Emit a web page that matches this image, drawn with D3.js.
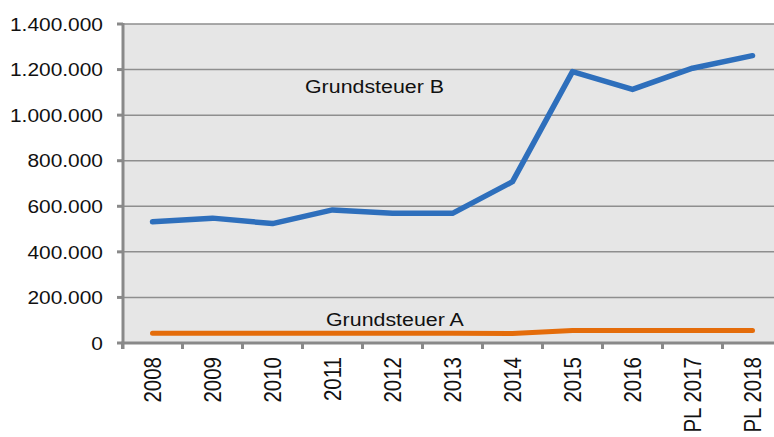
<!DOCTYPE html>
<html>
<head>
<meta charset="utf-8">
<script src="https://cdn.jsdelivr.net/npm/d3@7"></script>
<style>
  body { margin: 0; background: #fff; }
  svg { display: block; font-family: "Liberation Sans", Arial, sans-serif; }
</style>
</head>
<body>
<svg id="chart" width="774" height="437"></svg>
<script>
// data
var categories = ["2008", "2009", "2010", "2011", "2012", "2013", "2014", "2015", "2016", "PL 2017", "PL 2018"];
var grundsteuerB = [532000, 548000, 524000, 584000, 569000, 569000, 708000, 1191000, 1113000, 1206000, 1261000];
var grundsteuerA = [43000, 43000, 43000, 43000, 43000, 43000, 42000, 55000, 55000, 55000, 55000];
var yTicks = [0, 200000, 400000, 600000, 800000, 1000000, 1200000, 1400000];

var plotLeft = 123, plotTop = 24, plotBottom = 343, plotRight = 783;
var stretch = 1.125;

var de = d3.formatLocale({decimal: ",", thousands: ".", grouping: [3], currency: ["", " €"]});
var fmt = de.format(",");

var svg = d3.select("#chart");

var x = d3.scaleBand().domain(categories).range([plotLeft - 0.5, plotRight - 0.5]);
var y = d3.scaleLinear().domain([0, 1400000]).range([plotBottom, plotTop]);

// plot background
svg.append("rect")
    .attr("x", plotLeft).attr("y", plotTop)
    .attr("width", 774 - plotLeft).attr("height", plotBottom - plotTop)
    .attr("fill", "#e6e6e6");

// gridlines
svg.append("g").selectAll("line")
    .data(yTicks.slice(1))
    .join("line")
    .attr("x1", plotLeft).attr("x2", 774)
    .attr("y1", d => y(d)).attr("y2", d => y(d))
    .attr("stroke", "#8e8e8e")
    .attr("stroke-width", 1.5);

// y axis
var yAxis = svg.append("g").attr("transform", `translate(${plotLeft},0)`);
yAxis.append("line")
    .attr("x1", 0).attr("x2", 0)
    .attr("y1", plotTop - 1).attr("y2", plotBottom + 6)
    .attr("stroke", "#898989").attr("stroke-width", 3);
yAxis.selectAll(".ytick")
    .data(yTicks)
    .join("line")
    .attr("class", "ytick")
    .attr("x1", -6).attr("x2", 0)
    .attr("y1", d => y(d)).attr("y2", d => y(d))
    .attr("stroke", "#898989").attr("stroke-width", 3);
yAxis.selectAll(".ylabel")
    .data(yTicks)
    .join("text")
    .attr("class", "ylabel")
    .attr("transform", d => `translate(-20,${y(d)}) scale(${stretch},1)`)
    .attr("dy", "0.36em")
    .attr("text-anchor", "end")
    .attr("font-size", "18.6px")
    .attr("fill", "#111")
    .text(d => fmt(d));

// x axis
var xAxis = svg.append("g");
xAxis.append("line")
    .attr("x1", plotLeft - 1.5).attr("x2", 774)
    .attr("y1", plotBottom).attr("y2", plotBottom)
    .attr("stroke", "#898989").attr("stroke-width", 3);
xAxis.selectAll(".xtick")
    .data(categories)
    .join("line")
    .attr("class", "xtick")
    .attr("x1", d => x(d)).attr("x2", d => x(d))
    .attr("y1", plotBottom).attr("y2", plotBottom + 6)
    .attr("stroke", "#898989").attr("stroke-width", 3);
xAxis.selectAll(".xlabel")
    .data(categories)
    .join("text")
    .attr("class", "xlabel")
    .attr("transform", d => `translate(${x(d) + x.bandwidth() / 2},357) scale(${stretch},1) rotate(-90)`)
    .attr("dy", "0.36em")
    .attr("text-anchor", "end")
    .attr("font-size", "20.5px")
    .attr("fill", "#111")
    .text(d => d);

// lines
var line = d3.line()
    .x((d, i) => x(categories[i]) + x.bandwidth() / 2)
    .y(d => y(d));

svg.append("path")
    .attr("d", line(grundsteuerA))
    .attr("fill", "none")
    .attr("stroke", "#e46c0a")
    .attr("stroke-width", 5)
    .attr("stroke-linejoin", "round")
    .attr("stroke-linecap", "round");

svg.append("path")
    .attr("d", line(grundsteuerB))
    .attr("fill", "none")
    .attr("stroke", "#2e6fbc")
    .attr("stroke-width", 5.5)
    .attr("stroke-linejoin", "round")
    .attr("stroke-linecap", "round");

// series labels
svg.append("text")
    .attr("transform", `translate(305,93) scale(${stretch},1)`)
    .attr("font-size", "19px")
    .attr("fill", "#111")
    .text("Grundsteuer B");

svg.append("text")
    .attr("transform", `translate(326,326) scale(${stretch},1)`)
    .attr("font-size", "19px")
    .attr("fill", "#111")
    .text("Grundsteuer A");
</script>
</body>
</html>
